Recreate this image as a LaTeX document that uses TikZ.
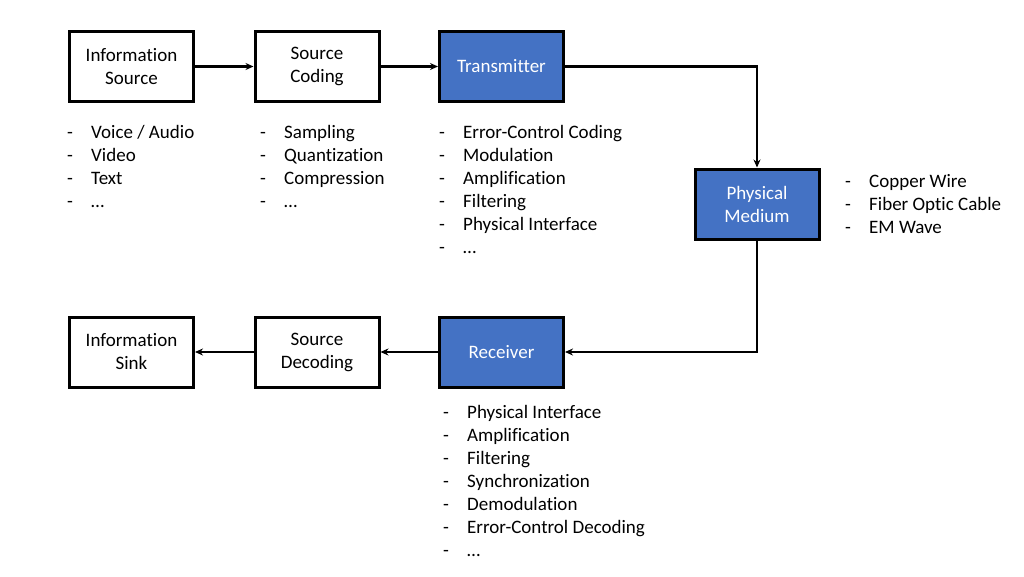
\documentclass[tikz,border=0pt]{standalone}
\usepackage{fontspec}
\setmainfont[Ligatures=NoCommon]{Carlito}
\usetikzlibrary{arrows.meta}
\definecolor{boxblue}{RGB}{68,114,196}

\tikzset{
  block/.style={draw=black, line width=3pt, minimum width=124pt, minimum height=70pt, align=center, inner sep=2pt},
  blueblock/.style={block, fill=boxblue, text=white},
  flow/.style={line width=2.2pt, -{Stealth[length=8pt,width=7pt]}},
  item/.style={anchor=base west, inner sep=0pt},
}
\newcommand{\dashitem}[1]{\makebox[24pt][l]{-}#1}

\begin{document}
\begin{tikzpicture}[x=1pt,y=-1pt,font=\fontsize{19}{23}\selectfont]
  \useasboundingbox (0,0) rectangle (1024,576);
  % the blocks
  \node[block] (src) at (131.5,66.5) {Information\\Source};
  \node[block] (scod) at (317,66.5) {Source\\Coding};
  \node[blueblock] (tx) at (501.5,66.5) {Transmitter};
  \node[blueblock] (pm) at (757,204) {Physical\\Medium};
  \node[blueblock] (rx) at (501.5,352) {Receiver};
  \node[block] (sdec) at (317,352) {Source\\Decoding};
  \node[block] (sink) at (131.5,352) {Information\\Sink};
  % the arrows
  \draw[flow] (src) -- (scod);
  \draw[flow] (scod) -- (tx);
  \draw[flow] (tx.east) -| (pm.north);
  \draw[flow] (pm.south) |- (rx.east);
  \draw[flow] (rx) -- (sdec);
  \draw[flow] (sdec) -- (sink);
  % the lists
  \foreach \t [count=\i] in {Voice / Audio,Video,Text,…}
    \node[item] (srcl\i) at (67,138+23*\i-23) {\dashitem{\t}};
  \foreach \t [count=\i] in {Sampling,Quantization,Compression,…}
    \node[item] (codl\i) at (260,138+23*\i-23) {\dashitem{\t}};
  \foreach \t [count=\i] in {Error-Control Coding,Modulation,Amplification,Filtering,Physical Interface,…}
    \node[item] (txl\i) at (439,138+23*\i-23) {\dashitem{\t}};
  \foreach \t [count=\i] in {Copper Wire,Fiber Optic Cable,EM Wave}
    \node[item] (pml\i) at (845,187+23*\i-23) {\dashitem{\t}};
  \foreach \t [count=\i] in {Physical Interface,Amplification,Filtering,Synchronization,Demodulation,Error-Control Decoding,…}
    \node[item] (rxl\i) at (443,418+23*\i-23) {\dashitem{\t}};
\end{tikzpicture}
\end{document}
